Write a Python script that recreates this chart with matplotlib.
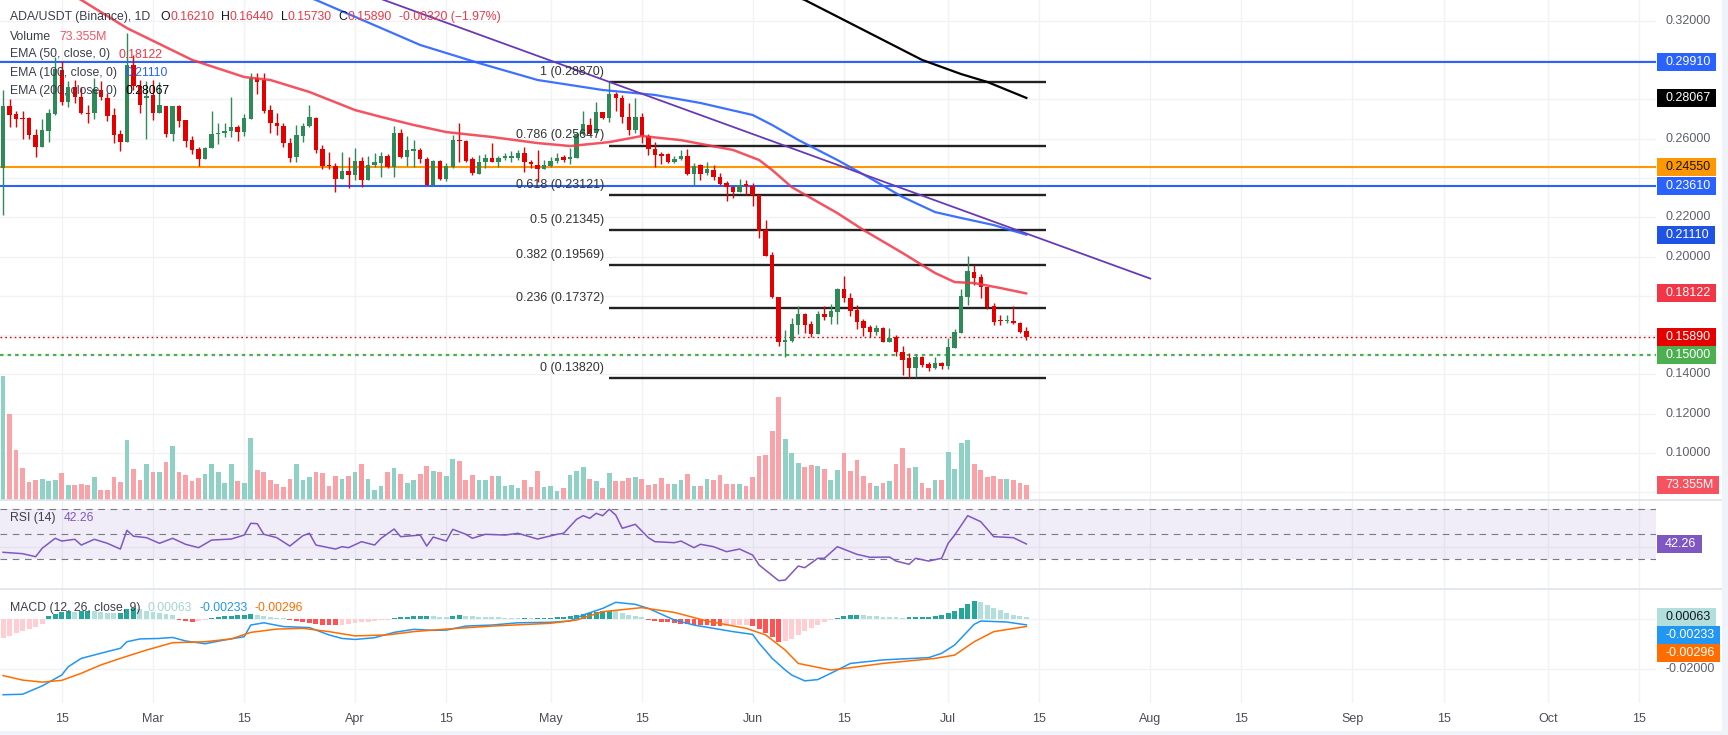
import numpy as np
import pandas as pd
import matplotlib
matplotlib.use("Agg")
import matplotlib.pyplot as plt
from matplotlib.patches import Rectangle
from matplotlib.lines import Line2D
from matplotlib.transforms import IdentityTransform, blended_transform_factory, Bbox

plt.rcParams['font.family'] = ['Liberation Sans', 'DejaVu Sans']

# ---------------- data ----------------
START = "2025-02-06"
opens = [0.2452,0.2766,0.2725,0.2703,0.2703,0.2620,0.2559,0.2640,0.2725,0.2949,
         0.2788,0.2864,0.2813,0.2732,0.2728,0.2847,0.2805,0.2720,0.2623,0.2584,
         0.2972,0.2867,0.2805,0.2822,0.2732,0.2766,0.2623,0.2766,0.2694,0.2593,
         0.2547,0.2494,0.2550,0.2621,0.2627,0.2639,0.2657,0.2635,0.2701,0.2910,
         0.2898,0.2745,0.2681,0.2664,0.2576,0.2508,0.2613,0.2664,0.2703,0.2545,
         0.2464,0.2460,0.2396,0.2437,0.2416,0.2488,0.2389,0.2466,0.2477,0.2511,
         0.2454,0.2627,0.2508,0.2538,0.2542,0.2496,0.2364,0.2488,0.2393,0.2457,
         0.2593,0.2588,0.2494,0.2420,0.2483,0.2499,0.2483,0.2503,0.2503,0.2499,
         0.2525,0.2480,0.2466,0.2447,0.2460,0.2488,0.2504,0.2498,0.2499,0.2623,
         0.2669,0.2627,0.2737,0.2703,0.2827,0.2805,0.2711,0.2644,0.2708,0.2613,
         0.2549,0.2516,0.2520,0.2483,0.2494,0.2511,0.2420,0.2466,0.2427,0.2440,
         0.2403,0.2372,0.2355,0.2330,0.2364,0.2361,0.2313,0.2135,0.2008,0.1796,
         0.1567,0.1572,0.1652,0.1708,0.1657,0.1606,0.1708,0.1694,0.1720,0.1833,
         0.1787,0.1728,0.1672,0.1643,0.1618,0.1635,0.1567,0.1589,0.1516,0.1482,
         0.1435,0.1491,0.1453,0.1435,0.1460,0.1443,0.1533,0.1613,0.1796,0.1923,
         0.1894,0.1847,0.1748,0.1672,0.1671,0.1674,0.1664,0.1621]
highs = [0.2847,0.2799,0.2742,0.2740,0.2708,0.2647,0.2699,0.2750,0.3016,0.2995,
         0.2895,0.2898,0.2860,0.2771,0.2907,0.2895,0.2830,0.2754,0.2644,0.3135,
         0.3025,0.2898,0.2893,0.2898,0.2889,0.2766,0.2766,0.2771,0.2694,0.2613,
         0.2559,0.2559,0.2742,0.2677,0.2677,0.2810,0.2669,0.2725,0.2932,0.2932,
         0.2932,0.2771,0.2728,0.2678,0.2601,0.2669,0.2681,0.2771,0.2708,0.2567,
         0.2533,0.2477,0.2533,0.2504,0.2550,0.2504,0.2511,0.2525,0.2533,0.2521,
         0.2664,0.2647,0.2613,0.2593,0.2550,0.2504,0.2491,0.2491,0.2474,0.2618,
         0.2681,0.2593,0.2508,0.2516,0.2521,0.2576,0.2511,0.2525,0.2537,0.2542,
         0.2559,0.2490,0.2542,0.2491,0.2504,0.2528,0.2516,0.2550,0.2635,0.2742,
         0.2703,0.2788,0.2737,0.2887,0.2839,0.2822,0.2779,0.2805,0.2728,0.2623,
         0.2584,0.2533,0.2525,0.2513,0.2542,0.2545,0.2474,0.2469,0.2483,0.2466,
         0.2423,0.2386,0.2359,0.2393,0.2389,0.2376,0.2313,0.2186,0.2025,0.1796,
         0.1626,0.1685,0.1748,0.1711,0.1674,0.1723,0.1748,0.1759,0.1840,0.1901,
         0.1813,0.1754,0.1680,0.1652,0.1652,0.1640,0.1635,0.1601,0.1545,0.1508,
         0.1504,0.1494,0.1465,0.1491,0.1465,0.1584,0.1630,0.1833,0.2003,0.1957,
         0.1911,0.1847,0.1762,0.1703,0.1703,0.1748,0.1669,0.1644]
lows = [0.2211,0.2660,0.2657,0.2599,0.2597,0.2508,0.2556,0.2584,0.2720,0.2771,
        0.2760,0.2780,0.2725,0.2677,0.2700,0.2797,0.2691,0.2579,0.2537,0.2584,
        0.2847,0.2732,0.2598,0.2694,0.2728,0.2606,0.2589,0.2657,0.2555,0.2521,
        0.2460,0.2494,0.2550,0.2572,0.2606,0.2606,0.2589,0.2615,0.2701,0.2827,
        0.2728,0.2630,0.2618,0.2559,0.2483,0.2483,0.2584,0.2661,0.2528,0.2443,
        0.2443,0.2330,0.2396,0.2347,0.2389,0.2352,0.2389,0.2454,0.2406,0.2449,
        0.2406,0.2499,0.2460,0.2454,0.2474,0.2364,0.2364,0.2389,0.2386,0.2449,
        0.2483,0.2483,0.2415,0.2420,0.2449,0.2483,0.2454,0.2491,0.2483,0.2491,
        0.2432,0.2449,0.2381,0.2447,0.2457,0.2478,0.2481,0.2471,0.2499,0.2618,
        0.2618,0.2627,0.2701,0.2686,0.2742,0.2681,0.2618,0.2627,0.2576,0.2516,
        0.2457,0.2469,0.2477,0.2477,0.2491,0.2415,0.2364,0.2389,0.2415,0.2389,
        0.2364,0.2284,0.2296,0.2330,0.2313,0.2257,0.2096,0.2004,0.1787,0.1545,
        0.1491,0.1567,0.1606,0.1613,0.1589,0.1606,0.1677,0.1657,0.1657,0.1770,
        0.1700,0.1630,0.1595,0.1592,0.1601,0.1567,0.1567,0.1494,0.1397,0.1382,
        0.1389,0.1440,0.1419,0.1426,0.1426,0.1426,0.1533,0.1613,0.1753,0.1855,
        0.1787,0.1731,0.1652,0.1652,0.1660,0.1657,0.1613,0.1573]
closes = [0.2766,0.2722,0.2701,0.2700,0.2620,0.2559,0.2643,0.2728,0.2952,0.2788,
          0.2864,0.2813,0.2732,0.2725,0.2851,0.2810,0.2715,0.2618,0.2584,0.2972,
          0.2867,0.2771,0.2817,0.2732,0.2771,0.2623,0.2766,0.2691,0.2589,0.2542,
          0.2494,0.2550,0.2623,0.2628,0.2639,0.2657,0.2635,0.2705,0.2910,0.2889,
          0.2742,0.2678,0.2664,0.2576,0.2503,0.2618,0.2664,0.2708,0.2542,0.2460,
          0.2462,0.2396,0.2437,0.2416,0.2488,0.2389,0.2466,0.2483,0.2511,0.2454,
          0.2627,0.2508,0.2542,0.2545,0.2494,0.2364,0.2486,0.2393,0.2460,0.2593,
          0.2588,0.2486,0.2423,0.2483,0.2499,0.2483,0.2499,0.2506,0.2506,0.2525,
          0.2483,0.2470,0.2447,0.2464,0.2488,0.2503,0.2491,0.2503,0.2623,0.2674,
          0.2623,0.2737,0.2703,0.2827,0.2805,0.2711,0.2644,0.2708,0.2613,0.2549,
          0.2516,0.2513,0.2483,0.2494,0.2511,0.2420,0.2461,0.2420,0.2444,0.2403,
          0.2369,0.2352,0.2330,0.2364,0.2361,0.2313,0.2131,0.2004,0.1792,0.1567,
          0.1572,0.1657,0.1708,0.1652,0.1606,0.1708,0.1694,0.1723,0.1833,0.1787,
          0.1725,0.1669,0.1638,0.1618,0.1635,0.1567,0.1584,0.1516,0.1474,0.1435,
          0.1491,0.1448,0.1435,0.1457,0.1443,0.1541,0.1618,0.1799,0.1926,0.1892,
          0.1843,0.1742,0.1669,0.1671,0.1674,0.1660,0.1618,0.1589]
volume_m = [606,422,245,156,90,99,103,95,99,132,
            73,73,78,73,112,49,49,112,88,293,
            152,98,176,139,139,186,264,137,122,93,
            106,127,176,139,83,176,93,83,303,147,
            139,98,78,64,103,176,98,112,139,132,
            68,117,103,117,137,176,103,49,68,137,
            156,127,83,98,127,166,143,139,117,200,
            192,98,124,98,98,117,117,68,73,59,
            98,64,142,64,68,44,59,122,142,161,
            103,93,59,132,93,93,109,112,101,73,
            78,108,78,78,98,127,68,68,103,98,
            122,78,78,78,68,112,215,220,337,505,
            298,231,181,161,171,166,152,98,147,230,
            142,196,117,83,68,83,93,176,254,156,
            161,83,59,98,98,235,152,280,295,176,
            147,112,117,103,103,98,83,73.355]

ema50_idx = [0,12,19,29,37,41,47,54,58,63,68,75,82,87,93,98,104,112,116,118,121,128,132,138,143,146,149,153,157]
ema50_val = [0.352,0.3305,0.3162,0.3000,0.2913,0.2898,0.2837,0.2745,0.2710,0.2669,0.2633,0.2608,0.2577,0.2562,
             0.2582,0.2613,0.2592,0.2542,0.2491,0.2440,0.2353,0.2221,0.2135,0.2018,0.1916,0.1870,0.1865,0.1840,0.18122]
ema100_idx = [0,30,48,58,64,73,82,92,100,107,115,118,122,128,133,138,143,147,152,157]
ema100_val = [0.398,0.352,0.3305,0.3162,0.3076,0.2984,0.2898,0.2847,0.2822,0.2781,0.2720,0.2669,0.2593,0.2491,
              0.2399,0.2303,0.2226,0.2196,0.2160,0.2111]
ema200_idx = [100,123,141,147,151,157]
ema200_val = [0.358,0.3305,0.3000,0.2928,0.2888,0.28067]

trend_idx = [58, 176]
trend_val = [0.3310, 0.1888]

h_levels = [0.2991, 0.2455, 0.2361]
h_colors = ['#2962FF', '#FF9800', '#2962FF']
support_level = 0.15

fib_names = ['1', '0.786', '0.618', '0.5', '0.382', '0.236', '0']
fib_vals = [0.28870, 0.25647, 0.23121, 0.21345, 0.19569, 0.17372, 0.13820]
fib_span = [93, 160]

rsi_idx = [0,3,5,6,8,9,11,12,14,16,18,19,20,22,24,26,28,30,32,35,37,38,39,40,42,44,46,47,48,51,52,53,55,57,58,
           60,61,64,65,66,68,69,71,72,74,77,79,82,85,86,88,89,90,91,92,93,94,95,97,99,100,103,104,106,107,109,
           111,113,115,116,119,120,122,123,125,126,128,131,133,136,137,139,140,142,144,145,146,148,150,152,155,157]
rsi_val = [35.6,34.5,32.1,38.8,46.8,44.6,46.0,41.4,46.0,42.8,38.2,53.2,48.5,47.3,42.8,46.8,42.0,39.3,45.4,46.2,
           49.4,58.8,58.5,50.0,47.3,40.6,48.9,50.8,41.4,38.2,40.1,39.3,44.1,41.4,46.8,54.2,48.1,49.4,40.6,47.8,
           44.6,54.0,50.0,46.8,50.0,49.4,50.8,46.2,50.0,50.8,62.0,64.9,62.8,66.8,64.9,70.0,65.4,54.8,58.0,47.3,
           44.1,43.3,44.6,39.3,42.0,40.1,36.1,38.2,33.4,25.4,12.9,13.4,24.6,23.3,30.8,30.8,40.1,34.0,31.6,31.8,
           28.6,26.0,30.8,28.6,30.8,42.8,49.4,64.9,60.1,48.1,47.3,42.26]

macd_idx = [0,3,6,9,10,12,16,18,19,21,24,26,28,31,34,37,38,40,43,47,50,52,54,57,60,63,66,68,71,75,79,84,87,89,
            92,94,97,99,103,106,112,115,116,118,120,121,123,125,127,130,135,142,144,146,149,150,154,157]
macd_val = [-0.0300,-0.0298,-0.0265,-0.0222,-0.0189,-0.0156,-0.0129,-0.0116,-0.0090,-0.0079,-0.0077,-0.0073,
            -0.0087,-0.0098,-0.0083,-0.0070,-0.0024,-0.0015,-0.0030,-0.0034,-0.0063,-0.0077,-0.0081,-0.0074,
            -0.0053,-0.0041,-0.0045,-0.0044,-0.0028,-0.0024,-0.0015,-0.0013,-0.0008,0.0016,0.0042,0.0066,
            0.0058,0.0042,-0.0004,-0.0024,-0.0050,-0.0061,-0.0096,-0.0156,-0.0202,-0.0222,-0.0245,-0.0240,
            -0.0215,-0.0176,-0.0162,-0.0153,-0.0136,-0.0103,-0.0021,-0.0008,-0.0012,-0.00233]
signal_idx = [0,3,6,9,12,15,18,22,26,31,35,38,42,46,50,54,59,63,68,75,84,88,92,98,103,108,114,117,120,122,127,
              130,135,143,146,149,152,157]
signal_val = [-0.0224,-0.0242,-0.0250,-0.0243,-0.0215,-0.0182,-0.0156,-0.0123,-0.0094,-0.0090,-0.0079,-0.0053,
              -0.0040,-0.0037,-0.0050,-0.0067,-0.0063,-0.0050,-0.0040,-0.0028,-0.0017,-0.0004,0.0029,0.0045,
              0.0026,-0.0008,-0.0037,-0.0063,-0.0123,-0.0176,-0.0202,-0.0193,-0.0176,-0.0156,-0.0143,-0.0090,
              -0.0050,-0.00296]
hist_val = [-0.0075,-0.0066,-0.0057,-0.0048,-0.0039,-0.0030,-0.0020,
            0.0012,0.0020,0.0027,0.0030,0.0028,0.0030,
            0.0032,0.0030,0.0026,0.0025,0.0022,0.0024,
            0.0040,0.0043,0.0038,0.0033,
            0.0027,0.0022,0.0020,0.0016,
            -0.0004,-0.0008,-0.0010,-0.0008,-0.0003,
            0.0004,0.0008,0.0010,0.0012,0.0014,0.0016,
            0.0018,0.0016,0.0012,0.0008,0.0004,0.0002,
            -0.0003,-0.0006,-0.0010,-0.0014,-0.0018,-0.0022,-0.0024,-0.0025,-0.0022,-0.0020,-0.0016,-0.0012,
            -0.0010,-0.0008,-0.0005,-0.0002,
            0.0004,0.0006,0.0008,0.0010,0.0012,0.0012,0.0011,0.0009,0.0008,0.0012,
            0.0014,0.0012,0.0010,0.0009,0.0008,0.0007,0.0006,0.0005,0.0004,0.0003,
            0.0003,0.0002,0.0003,0.0004,0.0005,0.0006,0.0008,0.0010,
            0.0016,0.0021,0.0024,0.0028,0.0030,0.0033,0.0030,
            0.0022,0.0016,0.0011,0.0006,
            -0.0002,-0.0006,-0.0010,-0.0013,-0.0016,-0.0018,-0.0020,-0.0022,-0.0024,-0.0025,-0.0026,-0.0027,
            -0.0026,-0.0025,-0.0024,-0.0023,-0.0028,
            -0.0040,-0.0055,-0.0072,-0.0090,-0.0088,-0.0080,
            -0.0062,-0.0048,-0.0034,-0.0022,-0.0012,-0.0004,
            0.0004,0.0010,0.0014,0.0016,0.0014,0.0012,0.0010,
            0.0008,0.0007,0.0006,0.0005,0.0006,0.0006,0.0007,0.0008,0.0010,
            0.0014,0.0022,0.0032,0.0045,0.0060,0.0071,
            0.0066,0.0055,0.0044,0.0034,0.0024,0.0016,0.0010,0.00063]

tick_dates = ['2025-02-15','2025-03-01','2025-03-15','2025-04-01','2025-04-15','2025-05-01','2025-05-15',
              '2025-06-01','2025-06-15','2025-07-01','2025-07-15','2025-08-01','2025-08-15','2025-09-01',
              '2025-09-15','2025-10-01','2025-10-15']
tick_labels = ['15','Mar','15','Apr','15','May','15','Jun','15','Jul','15','Aug','15','Sep','15','Oct','15']

price_ticks = [0.10, 0.12, 0.14, 0.16, 0.18, 0.20, 0.22, 0.24, 0.26, 0.28, 0.30, 0.32]
price_grid = [0.08, 0.10, 0.12, 0.14, 0.16, 0.18, 0.20, 0.22, 0.24, 0.26, 0.28, 0.30, 0.32]
macd_ticks = [0.0, -0.02]

header_vals = {'O': '0.16210', 'H': '0.16440', 'L': '0.15730', 'C': '0.15890'}
change_txt = '-0.00320 (\u22121.97%)'

# ---------------- styling ----------------
GREEN = '#2E8B57'
RED = '#E50000'
VOL_UP = '#8FD1C5'
VOL_DN = '#F9A3A9'
GRID = '#F0F2F5'
TXT = '#131722'
AXT = '#5D606B'

o = np.array(opens); hi = np.array(highs); lo = np.array(lows); c = np.array(closes)
n = len(c)
idx = np.arange(n)
start = pd.Timestamp(START)
tick_pos = [(pd.Timestamp(d) - start).days for d in tick_dates]

W, H = 1728, 735
fig = plt.figure(figsize=(W / 100, H / 100), dpi=100)
fig.patch.set_facecolor('white')


def rect(x0, y0, x1, y1):
    return [x0 / W, 1 - y1 / H, (x1 - x0) / W, (y1 - y0) / H]


PR = 1656
ax_vol = fig.add_axes(rect(0, 0, PR, 500))
ax = fig.add_axes(rect(0, 0, PR, 500), sharex=ax_vol)
ax.patch.set_visible(False)
ax_rsi = fig.add_axes(rect(0, 500, PR, 589), sharex=ax_vol)
ax_macd = fig.add_axes(rect(0, 589, PR, 703), sharex=ax_vol)

for a in (ax_vol, ax, ax_rsi, ax_macd):
    for s in a.spines.values():
        s.set_visible(False)
    a.set_yticks([])
    a.tick_params(axis='x', length=0, labelbottom=False)

ax_vol.set_xlim(-0.47, 253.6)
ax.set_ylim(0.07616, 0.33048)
ax_vol.set_ylim(0, 2445)
ax_rsi.set_ylim(6.24, 77.44)
ax_macd.set_ylim(-0.03327, 0.01188)

# vertical grid
for a in (ax_vol, ax_rsi, ax_macd):
    for tp in tick_pos:
        a.axvline(tp, color=GRID, lw=1.0, zorder=0)
# horizontal grid in price pane (drawn in the back axes using price coords)
bt = blended_transform_factory(ax_vol.transAxes, ax.transData)
for p in price_grid:
    ax_vol.add_line(Line2D([0, 1], [p, p], transform=bt, color=GRID, lw=1.0, zorder=0))
for p in macd_ticks:
    ax_macd.axhline(p, color=GRID, lw=1.0, zorder=0)
ax_rsi.axhline(40, color=GRID, lw=1.0, zorder=0)

# volume
vcol = [VOL_UP if c[k] >= o[k] else VOL_DN for k in range(n)]
ax_vol.bar(idx, volume_m, width=0.72, color=vcol, linewidth=0, zorder=1)

# horizontal levels
for lv, col in zip(h_levels, h_colors):
    ax.axhline(lv, color=col, lw=1.5, zorder=2)
ax.axhline(c[-1], color='#E60000', lw=1.0, ls=(0, (1.2, 2.2)), zorder=2)
ax.axhline(support_level, color='#4CAF50', lw=1.6, ls=(0, (1.6, 1.8)), zorder=2)

# fibonacci
ax.hlines(fib_vals, fib_span[0], fib_span[1], color='#222222', lw=1.7, zorder=2)
for nm, fv in zip(fib_names, fib_vals):
    ax.annotate(f"{nm} ({fv:.5f})", xy=(fib_span[0], fv), xytext=(-3.5, 7.5), textcoords='offset points',
                ha='right', va='center', fontsize=9, color='#333333', zorder=7)

# candles
ccol = np.where(c >= o, GREEN, RED)
ax.vlines(idx, lo, hi, colors=ccol, lw=1.0, zorder=4)
body_lo = np.minimum(o, c)
body_h = np.maximum(np.abs(c - o), 0.0006)
ax.bar(idx, body_h, bottom=body_lo, width=0.68, color=ccol, linewidth=0, zorder=5)

# EMAs and trendline
ax.plot(ema50_idx, ema50_val, color='#F23645', lw=1.8, alpha=0.85, zorder=6, solid_capstyle='round')
ax.plot(ema100_idx, ema100_val, color='#2962FF', lw=1.6, alpha=0.9, zorder=6)
ax.plot(ema200_idx, ema200_val, color='#000000', lw=1.6, zorder=6)
ax.plot(trend_idx, trend_val, color='#673AB7', lw=1.3, zorder=6)

# RSI
ax_rsi.axhspan(30, 70, color='#7E57C2', alpha=0.1, lw=0, zorder=0)
for lv in (70, 50, 30):
    ax_rsi.axhline(lv, color='#787B86', lw=0.8, ls=(0, (6, 5)), zorder=1)
ax_rsi.plot(rsi_idx, rsi_val, color='#7E57C2', lw=1.1, zorder=3)

# MACD
hcol = []
for k in range(n):
    prev = hist_val[k - 1] if k > 0 else hist_val[k] - 1
    v = hist_val[k]
    if v >= 0:
        hcol.append('#26A69A' if v >= prev else '#B2DFDB')
    else:
        hcol.append('#FFCDD2' if v >= prev else '#FF5252')
ax_macd.bar(idx, hist_val, width=0.75, color=hcol, linewidth=0, zorder=1)
ax_macd.plot(macd_idx, macd_val, color='#2196F3', lw=1.1, zorder=3)
ax_macd.plot(signal_idx, signal_val, color='#FF6D00', lw=1.1, zorder=3)

# time axis labels
ax_macd.set_xticks(tick_pos)
ax_macd.set_xticklabels(tick_labels)
ax_macd.tick_params(axis='x', length=0, labelbottom=True, pad=7, labelsize=9, labelcolor='#4A4D57')
ax_vol.set_xlim(-0.47, 253.6)


# ---------------- legends (chained text) ----------------
def chain(a, x_pt, y_from_top_px, parts, fs=8.8):
    first, col0 = parts[0][0], parts[0][1]
    t = a.annotate(first, xy=(0, 1), xycoords='axes fraction', xytext=(x_pt, -y_from_top_px * 0.72),
                   textcoords='offset points', ha='left', va='center', fontsize=fs, color=col0, zorder=10)
    prev = t
    for s, col, gap in parts[1:]:
        prev = a.annotate(s, xy=(1, 0.5), xycoords=prev, xytext=(gap, 0), textcoords='offset points',
                          ha='left', va='center', fontsize=fs, color=col, zorder=10)


HC = '#F23645'
chain(ax, 7.5, 17.3, [('ADA/USDT (Binance), 1D', '#3A3E4A', 0),
                      ('O', TXT, 7), (header_vals['O'], HC, 0),
                      ('H', TXT, 5), (header_vals['H'], HC, 0),
                      ('L', TXT, 5), (header_vals['L'], HC, 0),
                      ('C', TXT, 5), (header_vals['C'], HC, 0),
                      (change_txt, HC, 5)])
chain(ax, 7.5, 36.7, [('Volume', '#3A3E4A', 0), ('73.355M', '#F7525F', 6)])
chain(ax, 7.5, 54.5, [('EMA (50, close, 0)', '#3A3E4A', 0), ('0.18122', '#F23645', 6)])
chain(ax, 7.5, 72.8, [('EMA (100, close, 0)', '#3A3E4A', 0), ('0.21110', '#2962FF', 6)])
chain(ax, 7.5, 91.0, [('EMA (200, close, 0)', '#3A3E4A', 0), ('0.28067', '#000000', 6)])
chain(ax_rsi, 7.5, 17.7, [('RSI (14)', '#3A3E4A', 0), ('42.26', '#7E57C2', 6)])
chain(ax_macd, 7.5, 18.7, [('MACD (12, 26, close, 9)', '#3A3E4A', 0), ('0.00063', '#A5D6CF', 5),
                           ('-0.00233', '#2196F3', 5), ('-0.00296', '#FF6D00', 5)])

# ---------------- right price scale ----------------
fig.canvas.draw()
renderer = fig.canvas.get_renderer()
ident = IdentityTransform()
LX = 1657
BOX_H = 18


def ydisp(a, v):
    return a.transData.transform((0, v))[1]


def stack(items):
    items = sorted(items, key=lambda it: -it[0])
    out = []
    prev = None
    for y, *rest in items:
        if prev is not None and y > prev - BOX_H:
            y = prev - BOX_H
        out.append((y, *rest))
        prev = y
    return out


main_boxes = [(ydisp(ax, 0.2991), '0.29910', '#2962FF', 'white'),
              (ydisp(ax, 0.28067), '0.28067', '#000000', 'white'),
              (ydisp(ax, 0.2455), '0.24550', '#FF9800', TXT),
              (ydisp(ax, 0.2361), '0.23610', '#2962FF', 'white'),
              (ydisp(ax, 0.2111), '0.21110', '#1E53E5', 'white'),
              (ydisp(ax, 0.18122), '0.18122', '#F23645', 'white'),
              (ydisp(ax, c[-1]), f'{c[-1]:.5f}', '#E60000', 'white'),
              (ydisp(ax, support_level), f'{support_level:.5f}', '#4CAF50', 'white')]
main_boxes = stack(main_boxes)
vol_boxes = [(ydisp(ax_vol, volume_m[-1]), '73.355M', '#F7525F', 'white')]
rsi_boxes = [(ydisp(ax_rsi, rsi_val[-1]), f'{rsi_val[-1]:.2f}', '#7E57C2', 'white')]
macd_boxes = stack([(ydisp(ax_macd, hist_val[-1]), '0.00063', '#B2DFDB', TXT),
                    (ydisp(ax_macd, macd_val[-1]), '-0.00233', '#2196F3', 'white'),
                    (ydisp(ax_macd, signal_val[-1]), '-0.00296', '#FF6D00', 'white')])


def tick_labels_for(a, values, fmt, boxes):
    for v in values:
        yd = ydisp(a, v)
        if any(abs(yd - b[0]) < 12 for b in boxes):
            continue
        fig.text(1665, yd, fmt.format(v), transform=ident, ha='left', va='center', fontsize=9, color=AXT)


tick_labels_for(ax, price_ticks, '{:.5f}', main_boxes + vol_boxes)
tick_labels_for(ax_macd, macd_ticks, '{:.5f}', macd_boxes)


def draw_boxes(items):
    for y, s, bg, fg in items:
        t = fig.text(LX + 8, y, s, transform=ident, ha='left', va='center', fontsize=9, color=fg, zorder=21)
        w = t.get_window_extent(renderer).width
        fig.add_artist(Rectangle((LX, y - BOX_H / 2), w + 14, BOX_H, transform=ident,
                                 facecolor=bg, edgecolor='none', zorder=20))


draw_boxes(main_boxes)
draw_boxes(vol_boxes)
draw_boxes(rsi_boxes)
draw_boxes(macd_boxes)

# pane separators and frame
for yy in (500, 589):
    fig.add_artist(Line2D([0, W - 6], [H - yy, H - yy], transform=ident, color='#E0E3EB', lw=1.2, zorder=15))
fig.add_artist(Rectangle((W - 6, 0), 6, H, transform=ident, facecolor='#F0F3FA', edgecolor='none', zorder=30))
fig.add_artist(Rectangle((0, 0), W, 4, transform=ident, facecolor='#F0F3FA', edgecolor='none', zorder=30))

fig.savefig('out.png', dpi=100, facecolor='white')
